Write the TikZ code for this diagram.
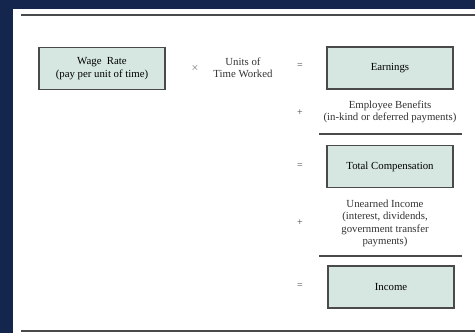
\documentclass[tikz,border=0pt]{standalone}
\usepackage{fontspec}
\setmainfont{Liberation Serif}
\definecolor{navy}{HTML}{14264E}
\definecolor{boxfill}{HTML}{D6E7E1}
\definecolor{rulegray}{HTML}{4A4A4A}

\begin{document}
\begin{tikzpicture}[x=1pt,y=-1pt,
	sumbox/.style={draw=rulegray,line width=1.1pt,fill=boxfill,minimum width=126pt,minimum height=42pt,align=center,font=\fontsize{10.8}{12.5}\selectfont},
	term/.style={align=center,text=black!80,font=\fontsize{10.8}{12.5}\selectfont},
	op/.style={text=black!75,font=\fontsize{10}{11}\selectfont}]
% background and panel
\fill[navy] (0,0) rectangle (475,333);
\fill[white] (13,9) rectangle (475,333);
\useasboundingbox (0,0) rectangle (475,333);
\draw[rulegray,line width=1.3pt] (21,15) -- (475,15);
\draw[rulegray,line width=1.3pt] (21,331) -- (475,331);

% first row
\node[sumbox] (wage) at (102,68.5) {Wage\ \ Rate\\(pay per unit of time)};
\node[op] (times) at (195,68) {$\times$};
\node[term] (units) at (243,68) {Units of\\Time Worked};
\node[op] (eq1) at (300,66) {=};
\node[sumbox] (earn) at (390,68) {Earnings};

% benefits
\node[op] (plus1) at (300,113) {+};
\node[term] (benef) at (390,112) {Employee Benefits\\(in-kind or deferred payments)};
\draw[rulegray,line width=1.2pt] (319,134) -- (462,134);
\node[op] (eq2) at (300,166) {=};
\node[sumbox] (total) at (390,166.5) {Total Compensation};

% unearned income
\node[op] (plus2) at (300,223) {+};
\node[term,font=\fontsize{10.8}{12.3}\selectfont] (unearn) at (385,223.5) {Unearned Income\\(interest, dividends,\\government transfer\\payments)};
\draw[rulegray,line width=1.2pt] (319,256) -- (462,256);
\node[op] (eq3) at (300,286) {=};
\node[sumbox] (income) at (391,287) {Income};
\end{tikzpicture}
\end{document}
